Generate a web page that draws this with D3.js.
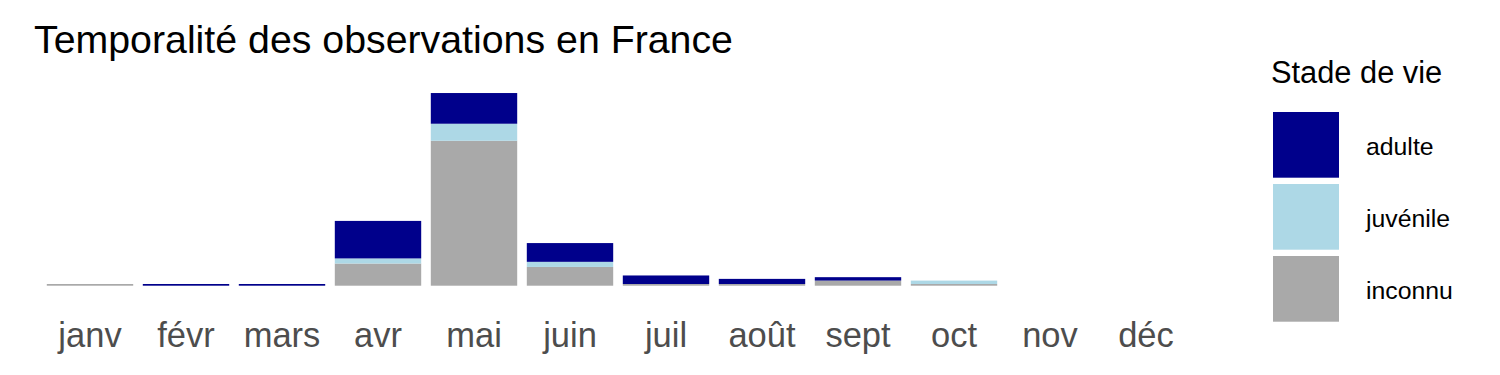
<!DOCTYPE html>
<html>
<head>
<meta charset="utf-8">
<script src="https://cdn.jsdelivr.net/npm/d3@7"></script>
<style>
html,body{margin:0;padding:0;background:#fff;}
svg{display:block;}
text{font-family:"Liberation Sans",Arial,sans-serif;}
</style>
</head>
<body>
<svg id="chart" width="1500" height="375"></svg>
<script>
const months = ["janv","févr","mars","avr","mai","juin","juil","août","sept","oct","nov","déc"];
const stages = ["adulte","juvénile","inconnu"];
const adulte   = [0, 1, 1, 22, 18, 11, 5, 3, 2, 0, 0, 0];
const juvenile = [0, 0, 0,  3, 10,  3, 0, 0, 0, 2, 0, 0];
const inconnu  = [1, 0, 0, 13, 85, 11, 1, 1, 3, 1, 0, 0];
const colors = ["#00008B", "#ADD8E6", "#A9A9A9"];
const titleText = "Temporalité des observations en France";
const legendTitle = "Stade de vie";

const rows = months.map((m, i) => ({month: m, "adulte": adulte[i], "juvénile": juvenile[i], "inconnu": inconnu[i]}));
const svg = d3.select("#chart");

const x = d3.scaleBand().domain(months).range([32.4, 1203.6]).paddingInner(0.1).paddingOuter(0.15);
const maxTotal = d3.max(rows, d => d.adulte + d["juvénile"] + d.inconnu);
const baseline = 285.7;
const y = d3.scaleLinear().domain([0, maxTotal * 1.05]).range([baseline, baseline - maxTotal * 1.05 * 1.705]);
const color = d3.scaleOrdinal().domain(stages).range(colors);

// stacking order: inconnu bottom, juvénile, adulte top
const stack = d3.stack().keys(["inconnu", "juvénile", "adulte"]);
const series = stack(rows);

svg.append("g").selectAll("g").data(series).join("g")
  .attr("fill", s => color(s.key))
  .selectAll("rect").data(s => s.map(d => ({d, key: s.key}))).join("rect")
  .attr("x", o => x(o.d.data.month))
  .attr("width", x.bandwidth())
  .attr("y", o => y(o.d[1]))
  .attr("height", o => Math.max(0, y(o.d[0]) - y(o.d[1])));

// x axis
const xAxis = d3.axisBottom(x).tickSize(0).tickPadding(0);
const gx = svg.append("g").attr("transform", `translate(0,${baseline})`).call(xAxis);
gx.select(".domain").remove();
gx.selectAll("text")
  .attr("y", 0).attr("dy", 0)
  .attr("transform", "translate(0,61)")
  .style("font-size", "34.5px")
  .style("font-family", "'Liberation Sans', Arial, sans-serif")
  .attr("fill", "#4D4D4D");

// title
svg.append("text").attr("x", 34).attr("y", 52.5)
  .style("font-size", "39.3px").attr("fill", "#000").text(titleText);

// legend
const lg = svg.append("g");
lg.append("text").attr("x", 1271).attr("y", 83.3)
  .style("font-size", "30.8px").attr("fill", "#000").text(legendTitle);
stages.forEach((s, i) => {
  const top = 112 + i * 72;
  lg.append("rect").attr("x", 1273).attr("y", top).attr("width", 66).attr("height", 65.7).attr("fill", color(s));
  lg.append("text").attr("x", 1366).attr("y", top + 43)
    .style("font-size", "24.8px").attr("fill", "#000").text(s);
});
</script>
</body>
</html>
